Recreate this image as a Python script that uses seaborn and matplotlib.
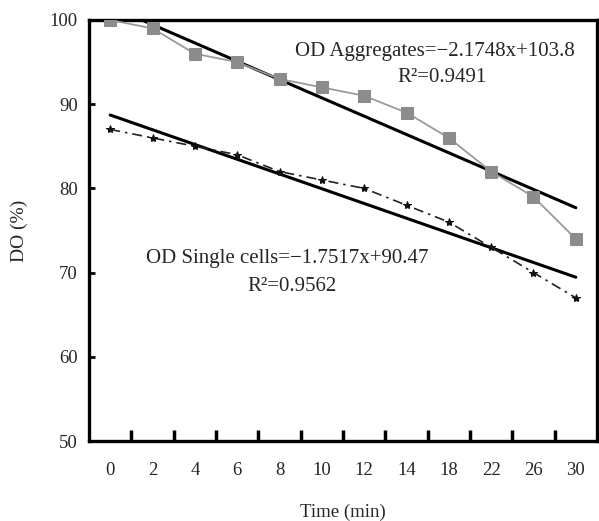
import numpy as np
import pandas as pd
import matplotlib
matplotlib.use("Agg")
import matplotlib.pyplot as plt
import seaborn as sns

# Sampling times (min) and dissolved-oxygen readings (%)
time_labels = ["0", "2", "4", "6", "8", "10", "12", "14", "18", "22", "26", "30"]
do_aggregates = [100, 99, 96, 95, 93, 92, 91, 89, 86, 82, 79, 74]
do_single = [87, 86, 85, 84, 82, 81, 80, 78, 76, 73, 70, 67]

# Linear fits (x = sample number 1..12)
fit_aggregates = (-2.1748, 103.8, 0.9491)
fit_single = (-1.7517, 90.47, 0.9562)

sns.set_theme(style="white")
plt.rcParams["font.family"] = ["Liberation Serif", "DejaVu Serif"]

fig = plt.figure(figsize=(5.99, 5.21), dpi=100)
ax = fig.add_axes([89 / 599, 1 - 441 / 521, 508 / 599, 421 / 521])

idx = np.arange(len(time_labels))
df = pd.DataFrame({"idx": idx, "agg": do_aggregates, "single": do_single})

# fitted trend lines from the stated equations
df["agg_fit"] = fit_aggregates[0] * (idx + 1) + fit_aggregates[1]
df["single_fit"] = fit_single[0] * (idx + 1) + fit_single[1]

sns.lineplot(data=df, x="idx", y="agg_fit", ax=ax, color="black", linewidth=2.2, zorder=3)
sns.lineplot(data=df, x="idx", y="single_fit", ax=ax, color="black", linewidth=2.2, zorder=3)

sns.lineplot(data=df, x="idx", y="agg", ax=ax, color="#9a9a9a", linewidth=1.3,
             marker="s", markersize=9, markerfacecolor="#8c8c8c",
             markeredgecolor="#8c8c8c", zorder=4)
sns.lineplot(data=df, x="idx", y="single", ax=ax, color="#222222", linewidth=1.2,
             marker="*", markersize=6, markerfacecolor="#111111",
             markeredgecolor="#111111", zorder=4)
ax.lines[-1].set_dashes([6, 3, 1.5, 3])

ax.set_xlim(-0.5, len(time_labels) - 0.5)
ax.set_ylim(50, 100)
ax.set_xticks(idx)
ax.set_xticklabels(time_labels, fontsize=13.5)
ax.set_xticks(idx[:-1] + 0.5, minor=True)
ax.set_yticks([50, 60, 70, 80, 90, 100])
ax.set_yticklabels(["50", "60", "70", "80", "90", "100"], fontsize=13.5)
ax.tick_params(axis="x", which="major", length=0, pad=15)
ax.tick_params(axis="x", which="minor", direction="in", length=8, width=2.5,
               color="black", bottom=True)
ax.tick_params(axis="y", which="major", direction="in", length=4, width=2,
               color="black", left=True, pad=8)

for side in ["left", "right", "top", "bottom"]:
    ax.spines[side].set_color("black")
    ax.spines[side].set_linewidth(2.4)

ax.set_xlabel("Time (min)", fontsize=13.5, labelpad=18)
ax.set_ylabel("DO (%)", fontsize=14, labelpad=16)

ax.text(0.681, 0.924, "OD Aggregates=\u22122.1748x+103.8", transform=ax.transAxes,
        ha="center", va="center", fontsize=15, zorder=5,
        bbox=dict(facecolor="white", edgecolor="none", pad=1))
ax.text(0.695, 0.864, "R\u00b2=0.9491", transform=ax.transAxes,
        ha="center", va="center", fontsize=15, zorder=5)
ax.text(0.390, 0.433, "OD Single cells=\u22121.7517x+90.47", transform=ax.transAxes,
        ha="center", va="center", fontsize=15, zorder=5)
ax.text(0.400, 0.367, "R\u00b2=0.9562", transform=ax.transAxes,
        ha="center", va="center", fontsize=15, zorder=5)

fig.savefig("out.png", dpi=100, facecolor="white")
